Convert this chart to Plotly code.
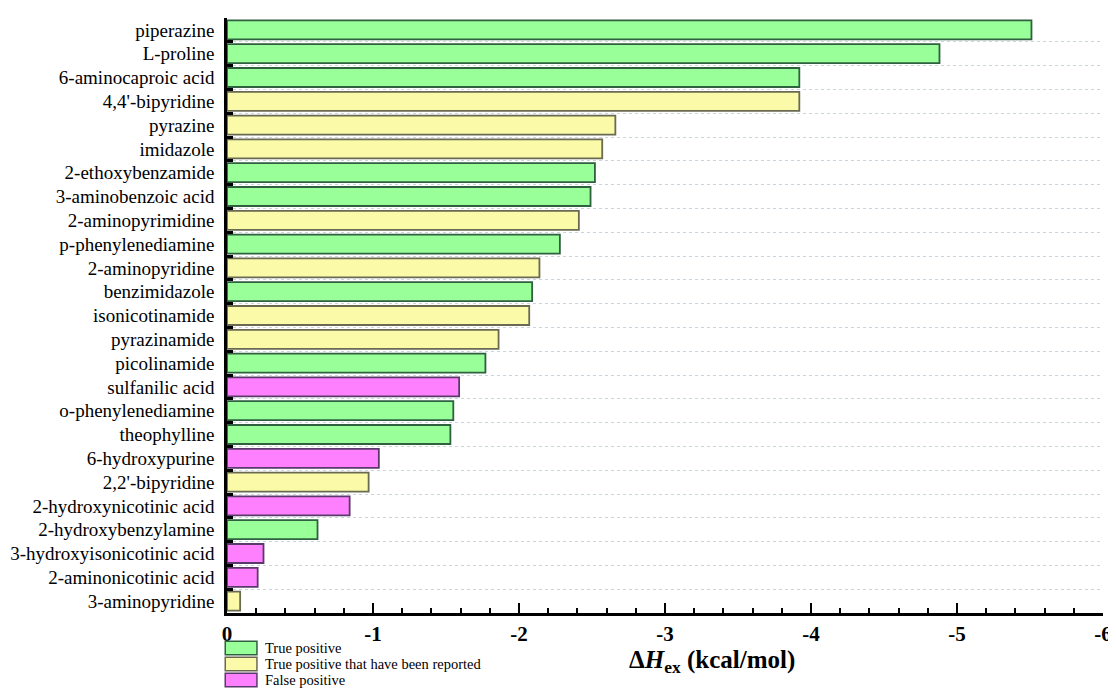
import plotly.graph_objects as go

compounds = [
    "piperazine", "L-proline", "6-aminocaproic acid", "4,4'-bipyridine", "pyrazine",
    "imidazole", "2-ethoxybenzamide", "3-aminobenzoic acid", "2-aminopyrimidine",
    "p-phenylenediamine", "2-aminopyridine", "benzimidazole", "isonicotinamide",
    "pyrazinamide", "picolinamide", "sulfanilic acid", "o-phenylenediamine",
    "theophylline", "6-hydroxypurine", "2,2'-bipyridine", "2-hydroxynicotinic acid",
    "2-hydroxybenzylamine", "3-hydroxyisonicotinic acid", "2-aminonicotinic acid",
    "3-aminopyridine",
]
dH_ex = [
    -5.51, -4.88, -3.92, -3.92, -2.66,
    -2.57, -2.52, -2.49, -2.41,
    -2.28, -2.14, -2.09, -2.07,
    -1.86, -1.77, -1.59, -1.55,
    -1.53, -1.04, -0.97, -0.84,
    -0.62, -0.25, -0.21,
    -0.09,
]
# 0 = true positive, 1 = true positive reported, 2 = false positive
group = [
    0, 0, 0, 1, 1,
    1, 0, 0, 1,
    0, 1, 0, 1,
    1, 0, 2, 0,
    0, 2, 1, 2,
    0, 2, 2,
    1,
]
legend_labels = ["True positive", "True positive that have been reported", "False positive"]
fill_colors = ["#99FF99", "#FAFAA8", "#FF80FF"]
line_colors = ["#2F6040", "#6A6A52", "#5A3A6A"]
x_ticks = [0, -1, -2, -3, -4, -5, -6]

fig = go.Figure()
fig.add_trace(go.Bar(
    y=compounds, x=dH_ex, orientation="h", width=0.8,
    marker=dict(color=[fill_colors[g] for g in group],
                line=dict(color=[line_colors[g] for g in group], width=1.8)),
    showlegend=False,
))

font_family = "Liberation Serif"
# page body has an 8px margin; figure compensates so the page does not scroll
fig.update_layout(
    width=1108, height=682,
    margin=dict(l=219, r=13, t=10, b=77, autoexpand=False),
    plot_bgcolor="white", paper_bgcolor="white",
    font=dict(family=font_family, color="black"),
    bargap=0.2,
)
fig.update_xaxes(
    range=[0, -6], tickvals=x_ticks, ticktext=[str(v) for v in x_ticks],
    ticks="inside", ticklen=10, tickwidth=2, tickcolor="black",
    minor=dict(dtick=0.2, ticks="inside", ticklen=5, tickwidth=2, tickcolor="black", showgrid=False),
    showline=True, linecolor="black", linewidth=2.5,
    showgrid=False, zeroline=False,
    tickfont=dict(family=font_family, size=21, color="black", weight="bold"),
    ticklabeloverflow="allow",
)
fig.update_yaxes(
    autorange="reversed", tickson="boundaries",
    ticks="inside", ticklen=6, tickwidth=2.5, tickcolor="black",
    showline=True, linecolor="black", linewidth=2.5,
    showgrid=True, gridcolor="#C9D5DC", griddash="dot", gridwidth=1,
    tickfont=dict(family=font_family, size=19, color="black"),
    ticklabelstandoff=6,
)

fig.add_annotation(
    text="<b>Δ<i>H</i><sub>ex</sub> (kcal/mol)</b>",
    xref="paper", yref="paper", x=0.4566, y=-0.082,
    xanchor="left", yanchor="middle", showarrow=False,
    font=dict(family=font_family, size=25, color="black"),
)

# custom legend
item_center = [-0.0588, -0.0857, -0.1126]
sw_half = 0.0112
for i, lab in enumerate(legend_labels):
    yc = item_center[i]
    fig.add_shape(type="rect", xref="paper", yref="paper",
                  x0=-0.002, x1=0.0342, y0=yc - sw_half, y1=yc + sw_half,
                  fillcolor=fill_colors[i], line=dict(color=line_colors[i], width=1.5))
    fig.add_annotation(text=lab, xref="paper", yref="paper",
                       x=0.041, y=yc, xanchor="left", yanchor="middle",
                       showarrow=False, font=dict(family=font_family, size=14.5, color="black"))

fig.write_html("out.html")
